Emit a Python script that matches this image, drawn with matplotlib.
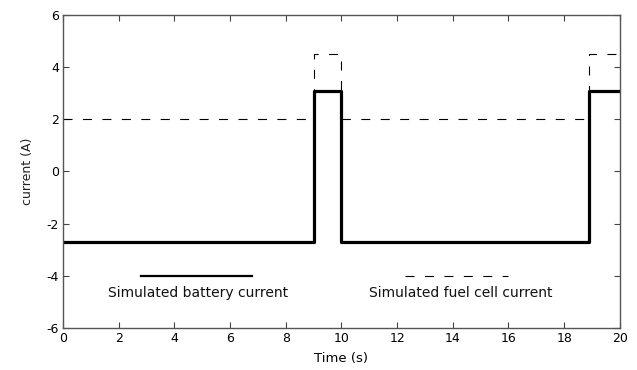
import numpy as np
import matplotlib
matplotlib.use('Agg')
import matplotlib.pyplot as plt

# Data
time = np.array([0, 9, 10, 18.9, 20])
battery = np.array([-2.7, 3.1, -2.7, 3.1, 3.1])
fuel_cell = np.array([2, 4.5, 2, 4.5, 4.5])

plt.rcParams['font.family'] = ['DejaVu Sans']
plt.rcParams['lines.scale_dashes'] = False
plt.rcParams['axes.unicode_minus'] = False

fig = plt.figure(figsize=(6.37, 3.7), dpi=100)
ax = fig.add_axes([0.099, 0.1135, 0.874, 0.846])

ax.plot(time, fuel_cell, drawstyle='steps-post', color='black', linewidth=0.8,
        dashes=(6.5, 7.5))
ax.plot(time, battery, drawstyle='steps-post', color='black', linewidth=2.3)

# in-plot legend
ax.plot([2.8, 6.8], [-4, -4], color='black', linewidth=1.6)
ax.plot([12.3, 16.0], [-4, -4], color='black', linewidth=0.8, dashes=(6.5, 7.5))
ax.text(4.85, -4.65, 'Simulated battery current', ha='center', va='center',
        fontsize=10, color='#111111')
ax.text(14.3, -4.65, 'Simulated fuel cell current', ha='center', va='center',
        fontsize=10, color='#111111')

ax.set_xlim(0, 20)
ax.set_ylim(-6, 6)
ax.set_xticks(np.arange(0, 21, 2))
ax.set_yticks(np.arange(-6, 7, 2))
ax.tick_params(direction='in', top=True, right=True, labelsize=9, length=4,
               color='#444444', pad=3)
for s in ax.spines.values():
    s.set_color('#555555')
    s.set_linewidth(1.0)

ax.set_xlabel('Time (s)', fontsize=9.5, labelpad=5)
ax.set_ylabel('current (A)', fontsize=9, labelpad=9, color='#222222')

fig.savefig('out.png', dpi=100)
